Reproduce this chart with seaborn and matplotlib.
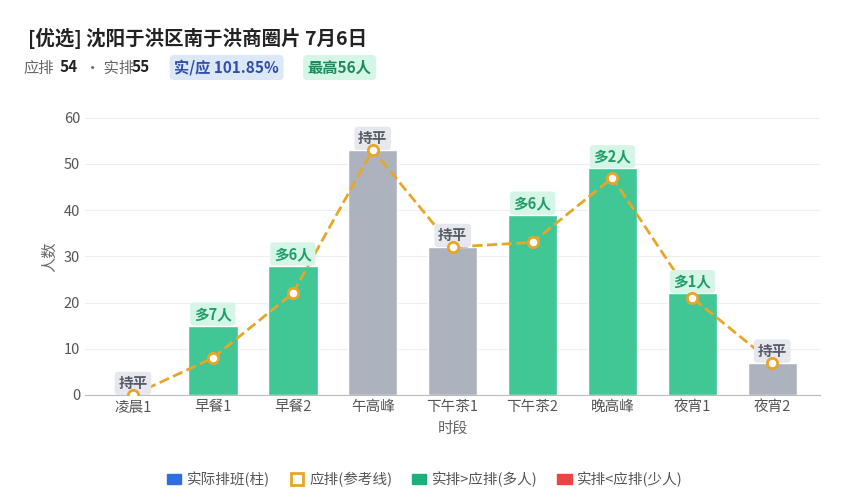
import numpy as np
import pandas as pd
import seaborn as sns
import matplotlib.pyplot as plt
from matplotlib.lines import Line2D
from matplotlib.patches import Patch

sns.set_style('white')
plt.rcParams['font.family'] = ['Noto Sans CJK SC', 'DejaVu Sans']

periods = ['凌晨1', '早餐1', '早餐2', '午高峰', '下午茶1', '下午茶2', '晚高峰', '夜宵1', '夜宵2']
actual = [0, 15, 28, 53, 32, 39, 49, 22, 7]
planned = [0, 8, 22, 53, 32, 33, 47, 21, 7]
tags = ['持平', '多7人', '多6人', '持平', '持平', '多6人', '多2人', '多1人', '持平']

GREEN = '#40c795'
GREY = '#adb2bf'
ORANGE = '#e8a628'

df = pd.DataFrame({'period': periods, 'actual': actual, 'planned': planned})
colors = [GREEN if a > p else GREY for a, p in zip(actual, planned)]

fig = plt.figure(figsize=(8.5, 5), dpi=100)
ax = fig.add_axes([0.1, 0.21, 0.865, 0.555])

sns.barplot(data=df, x='period', y='actual', hue='period', palette=colors,
            legend=False, width=0.62, saturation=1, ax=ax)
xs = np.arange(len(periods))
ax.plot(xs, planned, ls='--', color=ORANGE, lw=2, zorder=3)
ax.scatter(xs, planned, s=55, facecolor='white', edgecolor=ORANGE, lw=2, zorder=4)

for x, a, t in zip(xs, actual, tags):
    more = t != '持平'
    ax.text(x, a + 2.5, t, ha='center', va='center', fontsize=10.5, fontweight='bold',
            color='#1f9d68' if more else '#555b66',
            bbox=dict(boxstyle='round,pad=0.25', fc='#d5f5e6' if more else '#e6e8ee', ec='none'))

ax.set_ylim(0, 60)
ax.set_xlim(-0.6, 8.6)
ax.set_yticks(range(0, 61, 10))
ax.grid(axis='y', color='#eeeeee')
ax.set_axisbelow(True)
for s in ['top', 'right', 'left']:
    ax.spines[s].set_visible(False)
ax.spines['bottom'].set_color('#bbbbbb')
ax.tick_params(colors='#555555', labelsize=10.5, length=0)
ax.set_xlabel('时段', color='#666666', fontsize=11)
ax.set_ylabel('人数', color='#666666', fontsize=11)

fig.text(0.033, 0.91, '[优选] 沈阳于洪区南于洪商圈片 7月6日', fontsize=14, fontweight='bold', color='#222222')
fig.text(0.028, 0.855, '应排', fontsize=11, color='#666666')
fig.text(0.070, 0.855, '54', fontsize=11, fontweight='bold', color='#222222')
fig.text(0.100, 0.855, '· 实排', fontsize=11, color='#666666')
fig.text(0.155, 0.855, '55', fontsize=11, fontweight='bold', color='#222222')
fig.text(0.205, 0.855, '实/应 101.85%', fontsize=11, fontweight='bold', color='#2f4fa8',
         bbox=dict(boxstyle='round,pad=0.3', fc='#dce7f8', ec='none'))
fig.text(0.362, 0.855, '最高56人', fontsize=11, fontweight='bold', color='#1f8a5c',
         bbox=dict(boxstyle='round,pad=0.3', fc='#d5f5e6', ec='none'))

handles = [Patch(color='#2d6fe0'),
           Line2D([], [], marker='s', ls='none', mfc='white', mec=ORANGE, mew=2, ms=9),
           Patch(color='#19b27a'), Patch(color='#e84545')]
labels = ['实际排班(柱)', '应排(参考线)', '实排>应排(多人)', '实排<应排(少人)']
fig.legend(handles, labels, loc='lower center', ncol=4, frameon=False, fontsize=10.5,
           bbox_to_anchor=(0.5, 0.0), handlelength=1, handletextpad=0.4, columnspacing=1.3,
           labelcolor='#555555')

fig.savefig('out.png', dpi=100)
